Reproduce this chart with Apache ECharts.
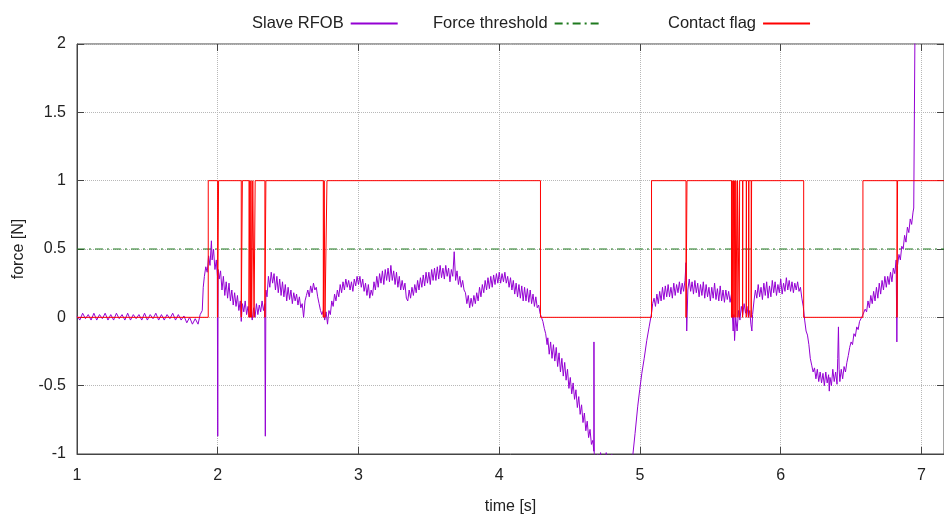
<!DOCTYPE html>
<html>
<head>
<meta charset="utf-8">
<script src="https://cdn.jsdelivr.net/npm/echarts@6/dist/echarts.min.js"></script>
<style>html,body{margin:0;padding:0;background:#fff}#c{width:944px;height:520px}</style>
</head>
<body>
<div id="c"></div>
<script>
// ---- data ----
const seriesNames = ['Slave RFOB', 'Force threshold', 'Contact flag'];
const xRange = [1, 7.16];
const yRange = [-1, 2];
const thresholdValue = 0.5;

// Slave RFOB force [t, N]
const slaveRFOB = [
[1.00,0.01],[1.02,-0.02],[1.04,0.03],[1.06,-0.01],[1.08,0.02],[1.10,-0.02],[1.12,0.03],[1.14,-0.02],[1.16,0.02],[1.18,-0.01],
[1.20,0.03],[1.22,-0.02],[1.24,0.02],[1.26,-0.02],[1.28,0.03],[1.30,-0.01],[1.32,0.02],[1.34,-0.02],[1.36,0.03],[1.38,-0.02],
[1.40,0.02],[1.42,-0.01],[1.44,0.02],[1.46,-0.02],[1.48,0.03],[1.50,-0.02],[1.52,0.02],[1.54,-0.01],[1.56,0.03],[1.58,-0.02],
[1.60,0.02],[1.62,-0.02],[1.64,0.02],[1.66,-0.01],[1.68,0.03],[1.70,-0.02],[1.72,0.02],[1.74,-0.02],[1.76,0.01],[1.78,-0.04],
[1.80,0.0],[1.82,-0.05],[1.84,-0.01],[1.86,-0.05],[1.875,0.02],[1.89,0.05],[1.897,0.22],[1.905,0.3],[1.915,0.37],[1.925,0.33],
[1.935,0.45],[1.945,0.38],[1.955,0.56],[1.96,0.42],[1.97,0.5],[1.98,0.35],[1.99,0.42],[1.997,0.3],[2.0,-0.87],[2.003,0.35],
[2.01,0.28],[2.02,0.34],[2.03,0.2],[2.04,0.3],[2.05,0.16],[2.06,0.26],[2.07,0.14],[2.08,0.25],[2.09,0.12],[2.10,0.2],
[2.11,0.09],[2.12,0.18],[2.13,0.08],[2.14,0.16],[2.15,0.05],[2.16,0.12],[2.167,-0.03],[2.175,0.1],[2.185,0.04],[2.195,0.12],
[2.205,0.02],[2.215,0.08],[2.225,0.0],[2.235,0.06],[2.245,-0.02],[2.255,0.07],[2.265,0.0],[2.275,0.1],[2.285,0.02],[2.295,0.09],
[2.305,0.04],[2.315,0.12],[2.325,0.05],[2.334,0.1],[2.338,-0.87],[2.342,0.2],[2.35,0.15],[2.36,0.3],[2.37,0.22],[2.38,0.33],
[2.39,0.25],[2.40,0.32],[2.41,0.2],[2.42,0.3],[2.43,0.18],[2.44,0.28],[2.45,0.16],[2.46,0.26],[2.47,0.15],[2.48,0.24],
[2.49,0.12],[2.50,0.22],[2.51,0.13],[2.52,0.2],[2.53,0.1],[2.54,0.18],[2.55,0.12],[2.56,0.17],[2.57,0.09],[2.58,0.15],
[2.59,0.07],[2.60,0.1],[2.61,0.0],[2.62,0.12],[2.63,0.16],[2.64,0.2],[2.65,0.15],[2.66,0.23],[2.67,0.18],[2.68,0.25],
[2.69,0.2],[2.70,0.22],[2.71,0.15],[2.72,0.1],[2.73,0.05],[2.74,0.02],[2.75,0.05],[2.76,-0.02],[2.77,0.04],[2.78,-0.05],
[2.79,0.05],[2.80,0.02],[2.81,0.12],[2.82,0.08],[2.83,0.17],[2.84,0.12],[2.85,0.2],[2.86,0.15],[2.87,0.24],[2.88,0.18],
[2.89,0.26],[2.90,0.2],[2.91,0.28],[2.92,0.22],[2.93,0.27],[2.94,0.2],[2.95,0.26],[2.96,0.19],[2.97,0.28],[2.98,0.23],
[2.99,0.3],[3.00,0.24],[3.01,0.3],[3.02,0.22],[3.03,0.28],[3.04,0.19],[3.05,0.25],[3.06,0.16],[3.07,0.24],[3.08,0.14],
[3.09,0.2],[3.10,0.16],[3.11,0.26],[3.12,0.2],[3.13,0.3],[3.14,0.22],[3.15,0.32],[3.16,0.25],[3.17,0.34],[3.18,0.24],
[3.19,0.35],[3.20,0.27],[3.21,0.36],[3.22,0.26],[3.23,0.38],[3.24,0.27],[3.25,0.34],[3.26,0.24],[3.27,0.33],[3.28,0.22],
[3.29,0.3],[3.30,0.2],[3.31,0.27],[3.32,0.2],[3.33,0.25],[3.34,0.14],[3.35,0.12],[3.36,0.2],[3.37,0.14],[3.38,0.22],
[3.39,0.16],[3.40,0.24],[3.41,0.18],[3.42,0.27],[3.43,0.2],[3.44,0.29],[3.45,0.22],[3.46,0.31],[3.47,0.23],[3.48,0.33],
[3.49,0.25],[3.50,0.33],[3.51,0.24],[3.52,0.35],[3.53,0.27],[3.54,0.36],[3.55,0.27],[3.56,0.37],[3.57,0.28],[3.58,0.38],
[3.59,0.29],[3.60,0.36],[3.61,0.28],[3.62,0.38],[3.63,0.3],[3.64,0.36],[3.65,0.26],[3.66,0.35],[3.67,0.3],[3.68,0.48],
[3.69,0.27],[3.70,0.34],[3.71,0.24],[3.72,0.3],[3.73,0.22],[3.74,0.27],[3.75,0.2],[3.76,0.18],[3.77,0.1],[3.78,0.16],
[3.79,0.07],[3.80,0.14],[3.81,0.08],[3.82,0.16],[3.83,0.1],[3.84,0.18],[3.85,0.12],[3.86,0.22],[3.87,0.15],[3.88,0.24],
[3.89,0.18],[3.90,0.27],[3.91,0.2],[3.92,0.29],[3.93,0.21],[3.94,0.3],[3.95,0.22],[3.96,0.31],[3.97,0.24],[3.98,0.32],
[3.99,0.25],[4.00,0.33],[4.01,0.25],[4.02,0.32],[4.03,0.26],[4.04,0.33],[4.05,0.25],[4.06,0.3],[4.07,0.22],[4.08,0.29],
[4.09,0.2],[4.10,0.27],[4.11,0.17],[4.12,0.25],[4.13,0.15],[4.14,0.24],[4.15,0.14],[4.16,0.23],[4.17,0.12],[4.18,0.22],
[4.19,0.12],[4.20,0.21],[4.21,0.11],[4.22,0.2],[4.23,0.1],[4.24,0.17],[4.25,0.08],[4.26,0.15],[4.27,0.07],[4.28,0.09],
[4.29,0.03],[4.30,0.0],[4.31,-0.03],[4.32,-0.08],[4.33,-0.12],[4.34,-0.2],[4.345,-0.15],[4.355,-0.27],[4.365,-0.18],[4.375,-0.3],
[4.385,-0.2],[4.395,-0.32],[4.405,-0.22],[4.415,-0.36],[4.425,-0.26],[4.435,-0.4],[4.445,-0.3],[4.455,-0.43],[4.465,-0.33],[4.475,-0.46],
[4.485,-0.38],[4.495,-0.52],[4.505,-0.44],[4.515,-0.56],[4.525,-0.48],[4.535,-0.6],[4.545,-0.53],[4.555,-0.66],[4.565,-0.58],[4.575,-0.71],
[4.585,-0.64],[4.595,-0.77],[4.605,-0.7],[4.615,-0.83],[4.625,-0.76],[4.635,-0.88],[4.645,-0.82],[4.655,-0.93],[4.665,-0.9],[4.672,-0.98],
[4.673,-0.18],[4.675,-1.02],[4.69,-1.05],[4.70,-1.0],[4.71,-1.08],[4.72,-0.99],[4.73,-1.1],[4.74,-1.02],[4.75,-1.1],[4.76,-0.99],
[4.77,-1.12],[4.78,-1.05],[4.79,-1.15],[4.80,-1.0],[4.81,-1.15],[4.83,-1.25],[4.86,-1.35],[4.90,-1.35],[4.93,-1.2],[4.95,-1.0],
[4.965,-0.85],[4.984,-0.65],[4.998,-0.53],[5.013,-0.41],[5.03,-0.3],[5.048,-0.17],[5.065,-0.07],[5.077,0.0],[5.085,0.05],[5.09,0.1],
[5.10,0.14],[5.11,0.08],[5.12,0.17],[5.13,0.1],[5.14,0.19],[5.15,0.12],[5.16,0.22],[5.17,0.13],[5.18,0.23],[5.19,0.15],
[5.20,0.24],[5.21,0.15],[5.22,0.22],[5.23,0.14],[5.24,0.25],[5.25,0.16],[5.26,0.24],[5.27,0.18],[5.28,0.26],[5.29,0.17],
[5.30,0.25],[5.31,0.19],[5.32,0.27],[5.327,0.4],[5.332,-0.1],[5.34,0.2],[5.35,0.28],[5.36,0.19],[5.37,0.26],[5.38,0.17],
[5.39,0.27],[5.40,0.18],[5.41,0.25],[5.42,0.15],[5.43,0.24],[5.44,0.16],[5.45,0.26],[5.46,0.14],[5.47,0.24],[5.48,0.15],
[5.49,0.22],[5.50,0.12],[5.51,0.22],[5.52,0.14],[5.53,0.25],[5.54,0.13],[5.55,0.21],[5.56,0.12],[5.57,0.23],[5.58,0.12],
[5.59,0.2],[5.60,0.11],[5.61,0.2],[5.62,0.13],[5.63,0.19],[5.64,0.11],[5.65,0.17],[5.655,0.05],[5.662,-0.1],[5.667,0.02],
[5.672,-0.17],[5.68,0.0],[5.69,-0.1],[5.70,0.05],[5.71,-0.02],[5.72,0.08],[5.73,0.02],[5.74,0.1],[5.75,0.03],[5.76,0.08],
[5.77,0.0],[5.78,0.05],[5.788,-0.05],[5.795,-0.1],[5.80,0.02],[5.81,0.12],[5.82,0.2],[5.83,0.14],[5.84,0.24],[5.85,0.15],
[5.86,0.22],[5.87,0.13],[5.88,0.25],[5.89,0.16],[5.90,0.26],[5.91,0.14],[5.92,0.23],[5.93,0.15],[5.94,0.27],[5.95,0.18],
[5.96,0.26],[5.97,0.16],[5.98,0.24],[5.99,0.18],[6.00,0.28],[6.01,0.17],[6.02,0.25],[6.03,0.19],[6.04,0.29],[6.05,0.2],
[6.06,0.27],[6.07,0.19],[6.08,0.26],[6.09,0.18],[6.10,0.25],[6.11,0.2],[6.12,0.26],[6.13,0.19],[6.14,0.22],[6.15,0.14],
[6.16,0.08],[6.17,-0.02],[6.18,-0.1],[6.19,-0.13],[6.20,-0.2],[6.21,-0.3],[6.22,-0.35],[6.23,-0.4],[6.24,-0.37],[6.25,-0.45],
[6.26,-0.38],[6.27,-0.47],[6.28,-0.4],[6.29,-0.48],[6.30,-0.41],[6.31,-0.5],[6.32,-0.4],[6.33,-0.48],[6.34,-0.42],[6.345,-0.54],
[6.35,-0.44],[6.36,-0.5],[6.37,-0.38],[6.38,-0.47],[6.39,-0.4],[6.40,-0.49],[6.405,-0.3],[6.41,-0.07],[6.415,-0.38],[6.42,-0.47],
[6.43,-0.38],[6.44,-0.45],[6.45,-0.36],[6.46,-0.4],[6.47,-0.33],[6.48,-0.28],[6.49,-0.22],[6.50,-0.18],[6.51,-0.2],[6.52,-0.12],
[6.53,-0.14],[6.54,-0.07],[6.55,-0.09],[6.56,-0.03],[6.57,-0.04],[6.58,0.01],[6.59,0.02],[6.60,0.06],[6.61,0.04],[6.62,0.12],
[6.63,0.07],[6.64,0.16],[6.65,0.1],[6.66,0.19],[6.67,0.12],[6.68,0.22],[6.69,0.14],[6.70,0.25],[6.71,0.17],[6.72,0.27],
[6.73,0.2],[6.74,0.3],[6.75,0.22],[6.76,0.3],[6.77,0.24],[6.78,0.33],[6.79,0.26],[6.80,0.36],[6.81,0.32],[6.82,0.42],
[6.825,-0.18],[6.83,0.38],[6.84,0.46],[6.85,0.42],[6.86,0.52],[6.87,0.5],[6.88,0.6],[6.89,0.55],[6.90,0.66],[6.91,0.62],
[6.92,0.72],[6.93,0.68],[6.94,0.77],[6.945,0.8],[6.955,2.3]
];

// Contact flag [t, 0/1]
const contactFlag = [
[1.0,0],[1.9325,0],[1.9325,1],[1.999,1],[1.999,0],[2.006,0],[2.006,1],[2.167,1],[2.167,0],[2.175,0],[2.175,1],
[2.222,1],[2.222,0],[2.228,0],[2.228,1],[2.233,1],[2.233,0],[2.236,0],[2.236,1],[2.241,1],[2.241,0],[2.249,0],[2.249,1],
[2.258,1],[2.258,0],[2.266,0],[2.266,1],[2.335,1],[2.335,0],[2.342,0],[2.342,1],
[2.750,1],[2.750,0],[2.756,0],[2.756,1],[2.762,1],[2.762,0],[2.776,0],[2.776,1],
[4.293,1],[4.293,0],[5.082,0],[5.082,1],[5.327,1],[5.327,0],[5.334,0],[5.334,1],
[5.650,1],[5.650,0],[5.655,0],[5.655,1],[5.659,1],[5.659,0],[5.664,0],[5.664,1],[5.668,1],[5.668,0],[5.673,0],[5.673,1],
[5.677,1],[5.677,0],[5.681,0],[5.681,1],[5.690,1],[5.690,0],[5.693,0],[5.693,1],[5.705,1],[5.705,0],[5.708,0],[5.708,1],
[5.729,1],[5.729,0],[5.731,0],[5.731,1],[5.755,1],[5.755,0],[5.757,0],[5.757,1],[5.772,1],[5.772,0],[5.774,0],[5.774,1],
[5.790,1],[5.790,0],[5.793,0],[5.793,1],
[6.163,1],[6.163,0],[6.584,0],[6.584,1],[6.826,1],[6.826,0],[6.830,0],[6.830,1],[7.2,1]
];

// threshold line
const threshold = [[xRange[0], thresholdValue], [7.2, thresholdValue]];

// ---- chart ----
const FONT = 'Liberation Sans, Arial, sans-serif';
const chart = echarts.init(document.getElementById('c'), null, {renderer: 'canvas'});
const legendBase = {
  top: 10, align: 'right', itemWidth: 47, itemHeight: 12, selectedMode: false,
  itemStyle: {opacity: 0},
  textStyle: {fontFamily: FONT, fontSize: 16.5, color: '#222', padding: [0, 2, 0, 0]}
};
const axisText = {fontFamily: FONT, fontSize: 16, color: '#222'};
const tickStyle = {show: true, inside: true, length: 7, lineStyle: {color: '#444'}};
chart.setOption({
  animation: false,
  backgroundColor: '#fff',
  legend: [
    Object.assign({}, legendBase, {left: 247, data: [seriesNames[0]]}),
    Object.assign({}, legendBase, {left: 428, data: [seriesNames[1]]}),
    Object.assign({}, legendBase, {left: 663, data: [seriesNames[2]]})
  ],
  grid: {left: 77, top: 44, right: 0, bottom: 62, show: true, borderColor: '#444', borderWidth: 1},
  xAxis: [{
    type: 'value', min: xRange[0], max: xRange[1], interval: 1,
    name: 'time [s]', nameLocation: 'middle', nameGap: 45,
    nameTextStyle: axisText,
    axisLine: {show: true, onZero: false, lineStyle: {color: '#444'}},
    axisTick: tickStyle,
    axisLabel: Object.assign({margin: 14, showMaxLabel: false}, axisText),
    splitLine: {show: true, lineStyle: {color: '#b8b8b8', type: 'dotted', width: 1}}
  }, {
    type: 'value', position: 'top', min: xRange[0], max: xRange[1], interval: 1,
    axisLine: {show: false, onZero: false}, axisLabel: {show: false}, splitLine: {show: false},
    axisTick: tickStyle
  }],
  yAxis: [{
    type: 'value', min: yRange[0], max: yRange[1], interval: 0.5,
    name: 'force [N]', nameLocation: 'middle', nameGap: 50,
    nameTextStyle: axisText,
    axisLine: {show: true, onZero: false, lineStyle: {color: '#444'}},
    axisTick: tickStyle,
    axisLabel: Object.assign({margin: 11}, axisText),
    splitLine: {show: true, lineStyle: {color: '#b8b8b8', type: 'dotted', width: 1}}
  }, {
    type: 'value', position: 'right', min: yRange[0], max: yRange[1], interval: 0.5,
    axisLine: {show: false, onZero: false}, axisLabel: {show: false}, splitLine: {show: false},
    axisTick: tickStyle
  }],
  series: [{
    name: seriesNames[0], type: 'line', data: slaveRFOB, symbol: 'none', clip: true,
    lineStyle: {color: '#9400d3', width: 1}, itemStyle: {color: '#9400d3'}
  }, {
    name: seriesNames[1], type: 'line', data: threshold, symbol: 'none', clip: true,
    lineStyle: {color: '#1f7a1f', width: 1, type: [8, 4, 2, 4]}, itemStyle: {color: '#1f7a1f'}
  }, {
    name: seriesNames[2], type: 'line', data: contactFlag, symbol: 'none', clip: true,
    lineStyle: {color: '#ff0000', width: 1}, itemStyle: {color: '#ff0000'}
  }]
});
</script>
</body>
</html>
